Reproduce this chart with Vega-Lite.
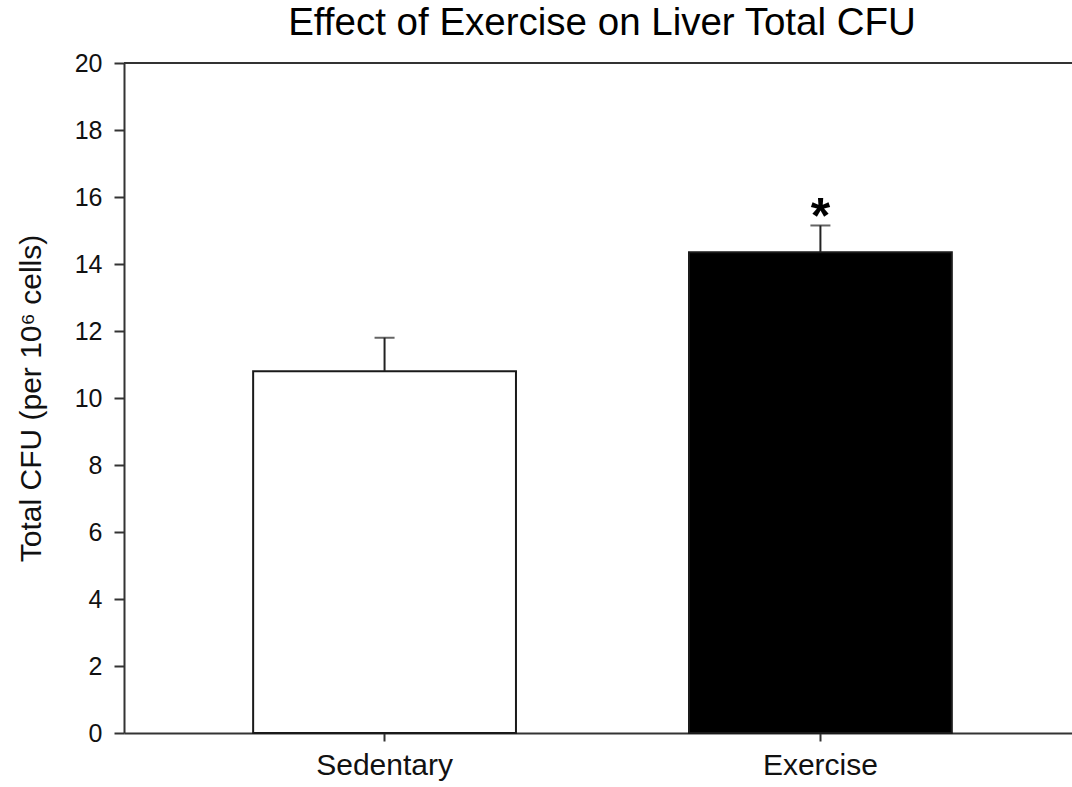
{
  "$schema": "https://vega.github.io/schema/vega-lite/v6.json",
  "autosize": "none",
  "width": 948,
  "height": 670,
  "padding": {"left": 124, "top": 63, "right": 0, "bottom": 54},
  "background": "white",
  "config": {
    "view": {"stroke": null},
    "font": "Liberation Sans"
  },
  "title": {
    "text": "Effect of Exercise on Liver Total CFU",
    "font": "Liberation Sans",
    "fontSize": 38.5,
    "fontWeight": "normal",
    "color": "#000000",
    "anchor": "middle",
    "baseline": "alphabetic",
    "offset": -22,
    "dx": 4
  },
  "data": {
    "values": [
      {"group": "Sedentary", "mean": 10.8, "upper": 11.8, "sig": ""},
      {"group": "Exercise", "mean": 14.35, "upper": 15.15, "sig": "*"}
    ]
  },
  "encoding": {
    "x": {
      "field": "group",
      "type": "nominal",
      "sort": ["Sedentary", "Exercise"],
      "scale": {"paddingInner": 0.397, "paddingOuter": 0.286, "align": 0.518},
      "axis": {
        "title": null,
        "labelAngle": 0,
        "labelFont": "Liberation Sans",
        "labelFontSize": 30,
        "labelColor": "#111111",
        "labelPadding": 9,
        "tickSize": 8,
        "tickWidth": 2,
        "tickColor": "#333333",
        "domainColor": "#333333",
        "domainWidth": 2
      }
    }
  },
  "layer": [
    {
      "mark": {"type": "rule", "color": "#333333", "strokeWidth": 2},
      "encoding": {"x": null, "y": {"datum": 20, "type": "quantitative"}}
    },
    {
      "mark": {"type": "bar", "stroke": "#1a1a1a", "strokeWidth": 2},
      "encoding": {
        "y": {
          "field": "mean",
          "type": "quantitative",
          "scale": {"domain": [0, 20], "nice": false},
          "axis": {
            "title": "Total CFU (per 10⁶ cells)",
            "titleFont": "Liberation Sans",
            "titleFontSize": 30,
            "titleFontWeight": "normal",
            "titleColor": "#111111",
            "titlePadding": 28,
            "values": [0, 2, 4, 6, 8, 10, 12, 14, 16, 18, 20],
            "grid": false,
            "labelFont": "Liberation Sans",
            "labelFontSize": 25,
            "labelColor": "#111111",
            "labelPadding": 12,
            "tickSize": 10,
            "tickWidth": 2,
            "tickColor": "#333333",
            "domainColor": "#333333",
            "domainWidth": 2
          }
        },
        "fill": {
          "field": "group",
          "type": "nominal",
          "scale": {"domain": ["Sedentary", "Exercise"], "range": ["#ffffff", "#000000"]},
          "legend": null
        }
      }
    },
    {
      "mark": {"type": "rule", "color": "#222222", "strokeWidth": 2},
      "encoding": {
        "y": {"field": "mean", "type": "quantitative"},
        "y2": {"field": "upper"}
      }
    },
    {
      "mark": {"type": "tick", "color": "#222222", "size": 20, "thickness": 2},
      "encoding": {
        "y": {"field": "upper", "type": "quantitative"}
      }
    },
    {
      "mark": {"type": "text", "font": "Liberation Sans", "fontSize": 50, "fontWeight": "bold", "baseline": "alphabetic", "dy": 8, "color": "#000000"},
      "encoding": {
        "y": {"field": "upper", "type": "quantitative"},
        "text": {"field": "sig"}
      }
    }
  ]
}
